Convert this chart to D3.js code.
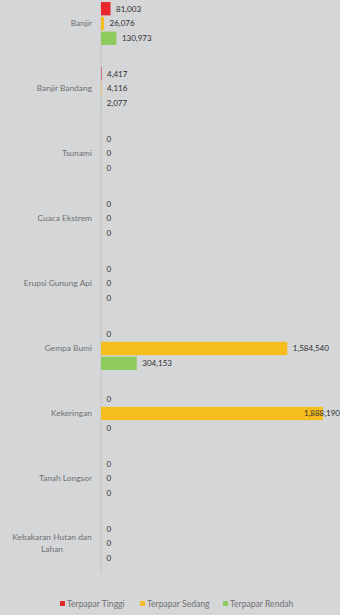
<!DOCTYPE html>
<html><head><meta charset="utf-8">
<script src="https://cdn.jsdelivr.net/npm/d3@7/dist/d3.min.js"></script>
<style>
html,body{margin:0;padding:0;background:#d5d6d8;}
svg{display:block;}
text{font-family:Lato,"Open Sans",sans-serif;}
</style></head>
<body><div id="chart"></div>
<script>
const categories = ["Banjir","Banjir Bandang","Tsunami","Cuaca Ekstrem","Erupsi Gunung Api","Gempa Bumi","Kekeringan","Tanah Longsor","Kebakaran Hutan dan Lahan"];
const seriesNames = ["Terpapar Tinggi","Terpapar Sedang","Terpapar Rendah"];
const tinggi = [81003, 4417, 0, 0, 0, 0, 0, 0, 0];
const sedang = [26076, 4116, 0, 0, 0, 1584540, 1888190, 0, 0];
const rendah = [130973, 2077, 0, 0, 0, 304153, 0, 0, 0];
const colors = ["#e8262b","#f6bd1f","#8ecb5f"];

const W = 340, H = 615;
const svg = d3.select("#chart").append("svg").attr("width", W).attr("height", H);
const values = [tinggi, sedang, rendah];

const x = d3.scaleLinear().domain([0, 2000000]).range([101, 336.1]);
const y0 = d3.scaleBand().domain(categories).range([-9, 576]).paddingInner(0.34).paddingOuter(0.17);
const y1 = d3.scaleBand().domain(seriesNames).range([0, y0.bandwidth()]).paddingInner(0.1);

// axis line
svg.append("line").attr("x1", x(0)).attr("x2", x(0)).attr("y1", 0).attr("y2", 573)
  .attr("stroke", "#c2c3c5").attr("stroke-width", 1);

const groups = svg.selectAll("g.cat").data(categories).join("g")
  .attr("transform", d => `translate(0,${y0(d)})`);

groups.each(function(cat, ci) {
  const g = d3.select(this);
  seriesNames.forEach((s, si) => {
    const v = values[si][ci];
    g.append("rect").attr("x", x(0)).attr("y", y1(s))
      .attr("width", x(v) - x(0)).attr("height", y1.bandwidth())
      .attr("fill", colors[si]);
    const t = g.append("text").attr("x", x(v) + 5.5).attr("y", y1(s) + y1.bandwidth() / 2)
      .attr("dy", "0.35em").attr("font-size", 8).attr("fill", "#2e2e2e")
      .text(d3.format(",")(v));
    const bb = t.node().getBBox();
    if (bb.x + bb.width > W) t.attr("x", W).attr("text-anchor", "end");
  });
});

// category labels
groups.each(function(cat) {
  const g = d3.select(this);
  const cy = y0.bandwidth() / 2;
  if (cat === "Kebakaran Hutan dan Lahan") {
    const t = g.append("text").attr("x", 52).attr("text-anchor", "middle")
      .attr("font-size", 8.4).attr("fill", "#707173");
    t.append("tspan").attr("x", 52).attr("y", cy - 3).text("Kebakaran Hutan dan");
    t.append("tspan").attr("x", 52).attr("y", cy + 8.5).text("Lahan");
  } else {
    g.append("text").attr("x", 92).attr("y", cy).attr("dy", "0.35em")
      .attr("text-anchor", "end").attr("font-size", 8.4).attr("fill", "#707173").text(cat);
  }
});

// legend
const legendX = [60, 140, 223];
const lg = svg.selectAll("g.leg").data(seriesNames).join("g")
  .attr("transform", (d, i) => `translate(${legendX[i]},604)`);
lg.append("rect").attr("x", 0).attr("y", -3).attr("width", 5).attr("height", 5)
  .attr("fill", (d, i) => colors[i]);
lg.append("text").attr("x", 7).attr("y", 0).attr("dy", "0.32em").attr("font-size", 8.6)
  .attr("fill", "#707173").text(d => d);
</script></body></html>
